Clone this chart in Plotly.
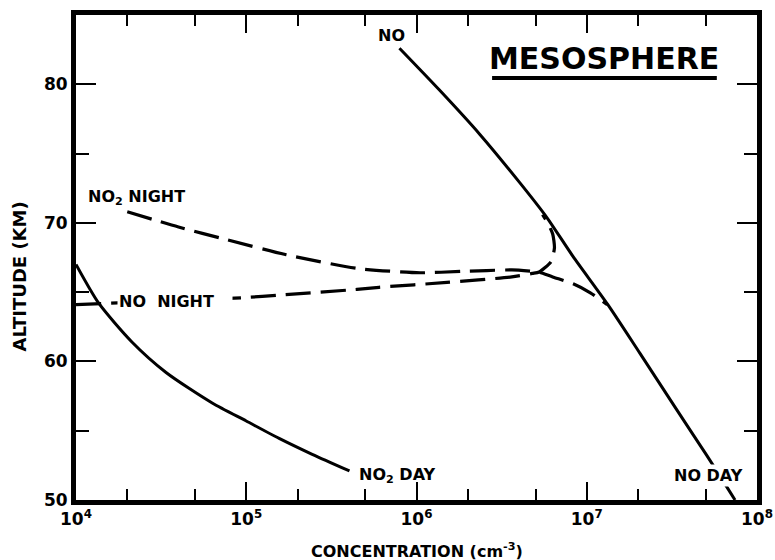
import numpy as np
import plotly.graph_objects as go

# ---- data (concentration cm^-3, altitude km) ----
no_day_conc = [7.94e5, 1.36e6, 2.35e6, 4.04e6, 5.82e6, 8.28e6, 1.33e7, 2.05e7, 3.30e7, 5.08e7, 7.43e7]
no_day_alt = [82.6, 79.6, 76.4, 72.9, 70.4, 67.6, 64.1, 60.6, 56.7, 53.2, 50.0]

no2_day_conc = [1.0e4, 1.36e4, 2.13e4, 3.38e4, 6.31e4, 1.0e5, 1.56e5, 2.44e5, 4.04e5]
no2_day_alt = [67.0, 64.2, 61.4, 59.2, 57.0, 55.7, 54.45, 53.3, 52.1]

no_night_conc = [1.0e4, 3.16e4, 9.55e4, 1.62e5, 4.47e5, 6.03e5, 1.51e6, 3.63e6, 4.79e6,
                 5.25e6, 6.17e6, 6.46e6, 6.31e6, 5.89e6, 5.5e6]
no_night_alt = [64.1, 64.35, 64.6, 64.8, 65.2, 65.35, 65.7, 66.1, 66.35,
                66.45, 67.2, 68.2, 69.2, 70.0, 70.6]

no2_night_conc = [2.0e4, 4.0e4, 7.6e4, 1.72e5, 4.57e5, 1.05e6, 1.86e6, 3.63e6, 4.79e6,
                  5.25e6, 6.31e6, 8.32e6, 1.05e7, 1.32e7]
no2_night_alt = [70.8, 69.7, 68.8, 67.7, 66.7, 66.4, 66.5, 66.6, 66.5,
                 66.45, 66.1, 65.6, 64.95, 64.1]

x_major = [1e4, 1e5, 1e6, 1e7, 1e8]
x_major_text = ["10<sup>4</sup>", "10<sup>5</sup>", "10<sup>6</sup>", "10<sup>7</sup>", "10<sup>8</sup>"]
x_minor = [2e4, 5e4, 2e5, 5e5, 2e6, 5e6, 2e7, 5e7]
y_major = [50, 60, 70, 80]
y_minor = [55, 65, 75, 85]

FONT = "DejaVu Sans"
fig = go.Figure()

solid = dict(color="black", width=3, shape="spline", smoothing=0.7)
dashed = dict(color="black", width=3.2, dash="25px,10px", shape="spline", smoothing=0.6)

fig.add_trace(go.Scatter(x=no_day_conc, y=no_day_alt, mode="lines", line=solid, name="NO DAY"))
fig.add_trace(go.Scatter(x=no2_day_conc, y=no2_day_alt, mode="lines", line=solid, name="NO2 DAY"))
fig.add_trace(go.Scatter(x=no_night_conc, y=no_night_alt, mode="lines", line=dashed, name="NO NIGHT"))
fig.add_trace(go.Scatter(x=no2_night_conc, y=no2_night_alt, mode="lines", line=dashed, name="NO2 NIGHT"))

NB = "\u00a0"
lab = dict(family=FONT, size=16, color="black")
ann = [
    dict(x=np.log10(7.1e5), y=83.55, text="<b>NO</b>", xanchor="center", yanchor="middle"),
    dict(x=np.log10(1.15e4), y=71.8, text="<b>NO<sub>2</sub> NIGHT</b>", xanchor="left", yanchor="middle"),
    dict(x=np.log10(1.74e4), y=64.36, text="<b>NO" + NB * 2 + "NIGHT" + NB * 3 + "</b>",
         xanchor="left", yanchor="middle", bgcolor="white"),
    dict(x=np.log10(4.47e5), y=51.8, text="<b>NO<sub>2</sub> DAY</b>", xanchor="left", yanchor="middle"),
    dict(x=np.log10(5.2e7), y=51.8, text="<b>NO DAY</b>", xanchor="center", yanchor="middle", bgcolor="white"),
]
annotations = []
for a in ann:
    annotations.append(dict(xref="x", yref="y", showarrow=False, font=lab, borderpad=1, **a))

annotations.append(dict(xref="paper", yref="paper", x=0.776, y=0.910, text="<b>MESOSPHERE</b>",
                        showarrow=False, font=dict(family=FONT, size=30, color="black"),
                        xanchor="center", yanchor="middle"))
annotations.append(dict(xref="paper", yref="paper", x=-0.083, y=0.462, text="<b>ALTITUDE (KM)</b>",
                        textangle=-90, showarrow=False, font=dict(family=FONT, size=18, color="black"),
                        xanchor="center", yanchor="middle"))
annotations.append(dict(xref="paper", yref="paper", x=0.5, y=-0.104, text="<b>CONCENTRATION (cm<sup>-3</sup>)</b>",
                        showarrow=False, font=dict(family=FONT, size=16, color="black"),
                        xanchor="center", yanchor="middle"))

fig.update_layout(
    width=775, height=560,
    margin=dict(l=76, r=18, t=15, b=60),
    paper_bgcolor="white", plot_bgcolor="white",
    showlegend=False,
    annotations=annotations,
    shapes=[dict(type="line", xref="paper", yref="paper", x0=0.611, x1=0.941, y0=0.870, y1=0.870,
                 line=dict(color="black", width=4))],
    xaxis=dict(type="log", range=[4, 8], tickmode="array", tickvals=x_major,
               ticktext=[f"<b>{t}</b>" for t in x_major_text],
               ticks="inside", ticklen=18, tickwidth=2, tickcolor="black",
               showline=True, linewidth=5, linecolor="black", mirror="allticks",
               showgrid=False, zeroline=False, automargin=False, ticklabeloverflow="allow",
               tickfont=dict(family=FONT, size=17, color="black"),
               minor=dict(tickmode="array", tickvals=x_minor, ticks="inside", ticklen=11, tickwidth=2,
                          tickcolor="black", showgrid=False)),
    yaxis=dict(range=[50, 85], tickmode="array", tickvals=y_major, ticktext=[f"<b>{v}</b>" for v in y_major],
               ticks="inside", ticklen=20, tickwidth=2, tickcolor="black",
               showline=True, linewidth=5, linecolor="black", mirror="allticks",
               showgrid=False, zeroline=False, automargin=False,
               tickfont=dict(family=FONT, size=17, color="black"),
               minor=dict(tickmode="array", tickvals=y_minor, ticks="inside", ticklen=13, tickwidth=2,
                          tickcolor="black", showgrid=False)),
)

fig.write_html("out.html")
